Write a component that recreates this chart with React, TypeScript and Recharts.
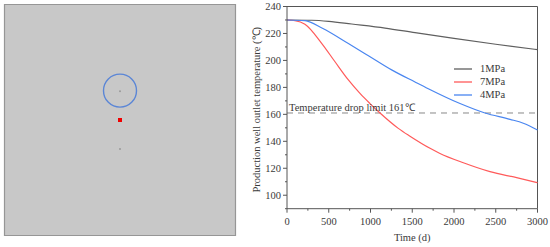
import React from "react";
import { LineChart, Line, XAxis, YAxis, ReferenceLine, ReferenceArea, ReferenceDot, ScatterChart, Scatter } from "recharts";

const times1 = [0, 295, 500, 774, 1174, 1533, 2000, 2500, 3000];
const mpa1 = [230, 229.8, 229, 227, 224, 220.6, 216.3, 212, 208];
const times7 = [0, 96, 215, 415, 575, 735, 874, 994, 1114, 1333, 1473, 1713, 1832, 2112, 2431, 2750, 3000];
const mpa7 = [230, 229.5, 226.8, 212.7, 199, 185.5, 175.5, 168, 161, 149.6, 143.8, 134.8, 131, 124.1, 117.5, 113, 109.3];
const times4 = [0, 215, 424, 735, 975, 1253, 1533, 1692, 2072, 2371, 2671, 2830, 3000];
const mpa4 = [230, 229.5, 223.8, 212.5, 203.5, 193, 184, 179, 168, 161, 156.3, 153.4, 148.4];
const xTicks = [0, 250, 500, 750, 1000, 1250, 1500, 1750, 2000, 2250, 2500, 2750, 3000];
const yTicks = [90, 100, 110, 120, 130, 140, 150, 160, 170, 180, 190, 200, 210, 220, 230, 240];
const legendItems = [
  { name: "1MPa", color: "#5f5f5f" },
  { name: "7MPa", color: "#ff5a5a" },
  { name: "4MPa", color: "#4a86f0" },
];
const rows1 = times1.map((t, i) => ({ t, v: mpa1[i] }));
const rows7 = times7.map((t, i) => ({ t, v: mpa7[i] }));
const rows4 = times4.map((t, i) => ({ t, v: mpa4[i] }));
const redWell = [{ x: 50, y: 50 }];
const grayWells = [{ x: 50, y: 62.5 }, { x: 50, y: 37.5 }];
const ringCentre = { x: 50, y: 62.7 };

const FONT = "'Liberation Serif', serif";
const INK = "#3a3a3a";

const XTick = (p: any) => {
  const major = p.payload.value % 500 === 0;
  return (
    <g>
      <line x1={p.x} x2={p.x} y1={p.y - 8} y2={p.y - 8 + (major ? 4 : 2)} stroke="#555" strokeWidth={1} />
      {major && (
        <text x={p.x} y={p.y + 8} textAnchor="middle" fontFamily={FONT} fontSize={10.5} fill={INK}>
          {p.payload.value}
        </text>
      )}
    </g>
  );
};

const YTick = (p: any) => {
  const major = p.payload.value % 20 === 0;
  return (
    <g>
      <line x1={p.x + 8} x2={p.x + 8 - (major ? 4 : 2)} y1={p.y} y2={p.y} stroke="#555" strokeWidth={1} />
      {major && (
        <text x={p.x + 2} y={p.y + 3.5} textAnchor="end" fontFamily={FONT} fontSize={10.5} fill={INK}>
          {p.payload.value}
        </text>
      )}
    </g>
  );
};

const LegendBox = () => (
  <div style={{ position: "absolute", left: 454, top: 62, fontFamily: FONT, fontSize: 10.5, color: INK }}>
    {legendItems.map((it) => (
      <div key={it.name} style={{ display: "flex", alignItems: "center", height: 13.2 }}>
        <svg width={18} height={4} style={{ marginRight: 8 }}>
          <line x1={0} x2={18} y1={2} y2={2} stroke={it.color} strokeWidth={1.3} />
        </svg>
        {it.name}
      </div>
    ))}
  </div>
);

export default function App() {
  return (
    <div style={{ position: "absolute", left: 0, top: 0, width: 550, height: 247, background: "#fff" }}>
      <div style={{ position: "absolute", left: 0, top: 0 }}>
        <ScatterChart width={240} height={240} margin={{ top: 4.5, right: 4.5, bottom: 4.5, left: 4.5 }}>
          <XAxis type="number" dataKey="x" domain={[0, 100]} hide />
          <YAxis type="number" dataKey="y" domain={[0, 100]} hide />
          <ReferenceArea x1={0} x2={100} y1={0} y2={100} fill="#c8c8c8" fillOpacity={1} stroke="#969696" strokeWidth={1.2} />
          <ReferenceDot x={ringCentre.x} y={ringCentre.y} r={16.5} fill="none" stroke="#5b86d6" strokeWidth={1.4} />
          <Scatter data={grayWells} fill="#9a9a9a" isAnimationActive={false} shape={(p: any) => <circle cx={p.cx} cy={p.cy} r={1} fill="#9a9a9a" />} />
          <Scatter data={redWell} fill="#f00000" isAnimationActive={false} shape={(p: any) => <rect x={p.cx - 2} y={p.cy - 2} width={4} height={4} fill="#f00000" />} />
        </ScatterChart>
      </div>
      <div style={{ position: "absolute", left: 0, top: 0 }}>
        <LineChart width={550} height={247} margin={{ top: 6.5, right: 12.5, bottom: 0, left: 237 }}>
          <XAxis
            dataKey="t" type="number" domain={[0, 3000]} ticks={xTicks} interval={0} height={38.3}
            tickLine={false} tick={<XTick />} axisLine={{ stroke: "#555", strokeWidth: 1 }}
            label={{ value: "Time (d)", position: "insideBottom", offset: 6, fontFamily: FONT, fontSize: 10.5, fill: INK }}
          />
          <YAxis
            type="number" domain={[90, 240]} ticks={yTicks} interval={0} width={50}
            tickLine={false} tick={<YTick />} axisLine={{ stroke: "#555", strokeWidth: 1 }}
            label={{ value: "Production well outlet temperature (℃)", angle: -90, position: "insideLeft", offset: 19, dy: 85, fontFamily: FONT, fontSize: 10.5, fill: INK }}
          />
          <ReferenceLine y={240} stroke="#555" strokeWidth={1} />
          <ReferenceLine x={3000} stroke="#555" strokeWidth={1} />
          <ReferenceLine
            y={161} stroke="#888" strokeWidth={1} strokeDasharray="6 5"
            label={{ value: "Temperature drop limit 161℃", position: "insideBottomLeft", offset: 2, fontFamily: FONT, fontSize: 10.5, fill: INK }}
          />
          <Line data={rows1} dataKey="v" name="1MPa" type="monotone" stroke={legendItems[0].color} strokeWidth={1.2} dot={false} isAnimationActive={false} />
          <Line data={rows7} dataKey="v" name="7MPa" type="monotone" stroke={legendItems[1].color} strokeWidth={1.2} dot={false} isAnimationActive={false} />
          <Line data={rows4} dataKey="v" name="4MPa" type="monotone" stroke={legendItems[2].color} strokeWidth={1.2} dot={false} isAnimationActive={false} />
        </LineChart>
      </div>
      <LegendBox />
    </div>
  );
}
